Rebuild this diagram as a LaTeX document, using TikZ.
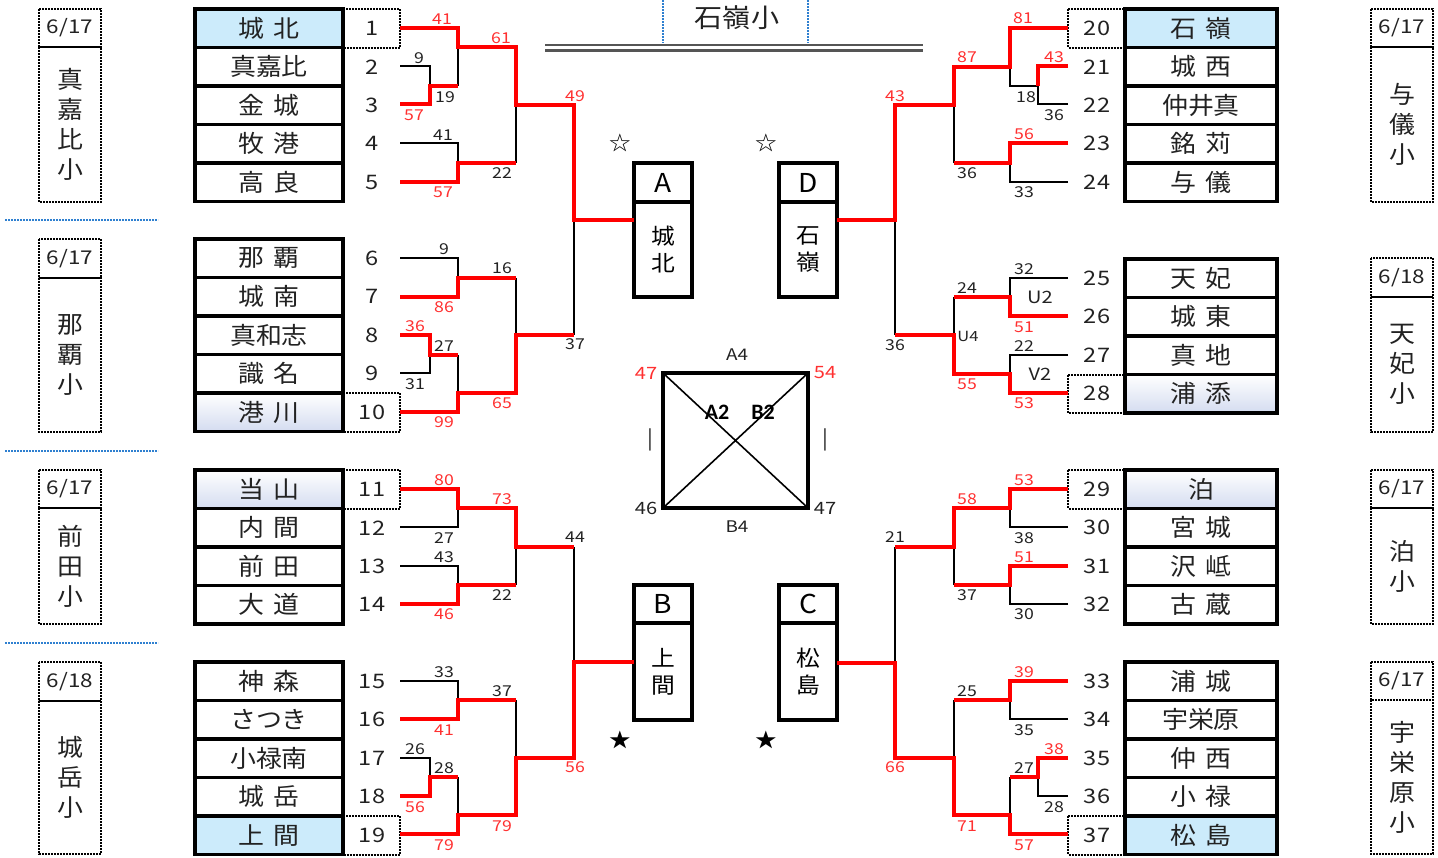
\documentclass[tikz,border=0pt]{standalone}
\usepackage{fontspec}
\setmainfont{Noto Sans CJK JP}[FakeStretch=1.08,WordSpace=1.5]
\newfontfamily\numfont{Noto Sans CJK JP}[FakeStretch=1.18]
\newfontfamily\latbold{Carlito}
\usepackage{tikz}
\usetikzlibrary{positioning,calc}
\definecolor{Win}{HTML}{FF0000}
\definecolor{WinTxt}{HTML}{FF3030}
\definecolor{Ink}{HTML}{222222}
\definecolor{Seed}{HTML}{CCEBFB}
\definecolor{SeedB}{HTML}{D4DCF0}
\definecolor{Sep}{HTML}{2F80D0}
\definecolor{Rail}{HTML}{555555}

\begin{document}
\begin{tikzpicture}[x=1pt,y=-1pt,
    nm/.style={font=\fontsize{24}{24}\selectfont,inner sep=0pt,text=Ink},
    no/.style={font=\numfont\fontsize{20}{20}\selectfont,inner sep=0pt,text=Ink},
    sc/.style={font=\numfont\fontsize{15}{15}\selectfont,inner sep=0pt,text=Ink},
    scw/.style={sc,text=WinTxt},
    cell/.style={draw=black,line width=3.4pt},
    dot/.style={draw=black,line width=2pt,densely dotted},
    sepl/.style={draw=Sep,line width=2pt,densely dotted},
    win/.style={draw=Win,line width=4.5pt},
    lose/.style={draw=black,line width=2.6pt},
    side/.style={font=\fontsize{24}{30}\selectfont,align=center,inner sep=0pt,text=Ink},
    date/.style={font=\numfont\fontsize{19}{19}\selectfont,inner sep=0pt,text=Ink}]
  \useasboundingbox (0,0) rectangle (1438,857);

  % seeded teams
  \fill[Seed] (195,9) rectangle (343,47.5);
  \fill[Seed] (195,816) rectangle (343,854.5);
  \fill[Seed] (1125,9) rectangle (1277,47.5);
  \fill[Seed] (1125,816) rectangle (1277,854.5);
  \shade[top color=white,bottom color=SeedB] (195,393) rectangle (343,431.5);
  \shade[top color=white,bottom color=SeedB] (195,470) rectangle (343,508.5);
  \shade[top color=white,bottom color=SeedB] (1125,374.5) rectangle (1277,413);
  \shade[top color=white,bottom color=SeedB] (1125,470) rectangle (1277,508.5);
  \draw[dot] (343,9) rectangle (400,47.5);
  \draw[dot] (343,393) rectangle (400,431.5);
  \draw[dot] (343,470) rectangle (400,508.5);
  \draw[dot] (343,816) rectangle (400,854.5);
  \draw[dot] (1068,9) rectangle (1125,47.5);
  \draw[dot] (1068,374.5) rectangle (1125,413);
  \draw[dot] (1068,470) rectangle (1125,508.5);
  \draw[dot] (1068,816) rectangle (1125,854.5);

  % team lists
  \foreach \tp/\lst in {9/{1/城 北,2/真嘉比,3/金 城,4/牧 港,5/高 良},
      239/{6/那 覇,7/城 南,8/真和志,9/識 名,10/港 川},
      470/{11/当 山,12/内 間,13/前 田,14/大 道},
      662/{15/神 森,16/さつき,17/小禄南,18/城 岳,19/上 間}}
    \foreach \k/\nm [count=\i] in \lst {
      \draw[cell] (195,{\tp+(\i-1)*38.5}) rectangle (343,{\tp+\i*38.5});
      \node[nm] (t\k) at (269,{\tp+(\i-0.5)*38.5}) {\nm};
      \node[no] (n\k) at (372,{\tp+(\i-0.5)*38.5}) {\k};
    }
  \foreach \tp/\lst in {9/{20/石 嶺,21/城 西,22/仲井真,23/銘 苅,24/与 儀},
      259/{25/天 妃,26/城 東,27/真 地,28/浦 添},
      470/{29/泊,30/宮 城,31/沢 岻,32/古 蔵},
      662/{33/浦 城,34/宇栄原,35/仲 西,36/小 禄,37/松 島}}
    \foreach \k/\nm [count=\i] in \lst {
      \draw[cell] (1125,{\tp+(\i-1)*38.5}) rectangle (1277,{\tp+\i*38.5});
      \node[nm] (t\k) at (1201,{\tp+(\i-0.5)*38.5}) {\nm};
      \node[no] (n\k) at (1097,{\tp+(\i-0.5)*38.5}) {\k};
    }

  % school labels
  \foreach \xa/\ya/\ym/\yb/\d/\v [count=\g] in {
      39/9/47/202/{6/17}/{真\\嘉\\比\\小}, 39/239/278/432/{6/17}/{那\\覇\\小},
      39/470/508/624/{6/17}/{前\\田\\小}, 39/662/701/854/{6/18}/{城\\岳\\小},
      1371/9/47/202/{6/17}/{与\\儀\\小}, 1371/258/297/432/{6/18}/{天\\妃\\小},
      1371/470/508/624/{6/17}/{泊\\小}, 1371/662/700/854/{6/17}/{宇\\栄\\原\\小}} {
    \draw[dot] (\xa,\ya) rectangle (\xa+62,\ym);
    \draw[dot] (\xa,\ym) rectangle (\xa+62,\yb);
    \node[date] (d\g) at ({\xa+31},{(\ya+\ym)/2}) {\d};
    \node[side] (s\g) at ({\xa+31},{(\ym+\yb)/2}) {\v};
  }
  \draw[sepl] (5,220) -- (158,220);
  \draw[sepl] (5,451) -- (158,451);
  \draw[sepl] (5,643) -- (158,643);

  % title
  \node[font=\fontsize{26}{26}\selectfont,text=Ink] (ttl) at (737,18) {石嶺小};
  \draw[sepl,line width=1.5pt] (663,0) -- (663,43);
  \draw[sepl,line width=1.5pt] (808,0) -- (808,43);
  \draw[Rail,line width=2.4pt] (545,45) -- (923,45);
  \draw[Rail,line width=2.4pt] (545,50.5) -- (923,50.5);

  % block winners
  \foreach \xa/\ya/\yb/\yc/\L/\s [count=\g] in {634/163/202/297/A/{城\\北},
      779/163/202/297/D/{石\\嶺}, 634/585/623/720/B/{上\\間}, 779/585/623/720/C/{松\\島}} {
    \draw[cell] (\xa,\ya) rectangle (\xa+58,\yb);
    \draw[cell] (\xa,\yb) rectangle (\xa+58,\yc);
    \node[font=\fontsize{26}{26}\selectfont,inner sep=0pt] (h\L) at ({\xa+29},{(\ya+\yb)/2}) {\L};
    \node[font=\fontsize{22}{27}\selectfont,align=center,inner sep=0pt] (b\L) at ({\xa+29},{(\yb+\yc)/2}) {\s};
  }
  \node[font=\fontsize{20}{20}\selectfont] (st1) at (620,143) {☆};
  \node[font=\fontsize{20}{20}\selectfont] (st2) at (766,143) {☆};
  \node[font=\fontsize{20}{20}\selectfont] (st3) at (620,740) {★};
  \node[font=\fontsize{20}{20}\selectfont] (st4) at (766,740) {★};

  % league square
  \draw[line width=4pt] (663,373) rectangle (808,508);
  \draw[line width=1.6pt] (663,373) -- (808,508) (808,373) -- (663,508);
  \node[sc,font=\numfont\fontsize{16}{16}\selectfont] (a4) at (737,355) {A4};
  \node[sc,font=\numfont\fontsize{16}{16}\selectfont] (b4) at (737,527) {B4};
  \node[scw,font=\numfont\fontsize{17}{17}\selectfont] (q1) at (646,373) {47};
  \node[scw,font=\numfont\fontsize{17}{17}\selectfont] (q2) at (825,373) {54};
  \node[sc,font=\numfont\fontsize{17}{17}\selectfont] (q3) at (646,508) {46};
  \node[sc,font=\numfont\fontsize{17}{17}\selectfont] (q4) at (825,508) {47};
  \node[font=\latbold\bfseries\fontsize{22}{22}\selectfont] (a2) at (717,412) {A2};
  \node[font=\latbold\bfseries\fontsize{22}{22}\selectfont] (b2) at (763,412) {B2};
  \node[sc,font=\fontsize{20}{20}\selectfont] (v1) at (650,440) {|};
  \node[sc,font=\fontsize{20}{20}\selectfont] (v2) at (825,440) {|};

  % losing paths
  \draw[lose] (400,66) -| (430,86);
  \draw[lose] (458,86) -- (458,47);
  \draw[lose] (400,143) -| (458,163);
  \draw[lose] (516,163) -- (516,105);
  \draw[lose] (400,258) -| (458,278);
  \draw[lose] (516,278) -- (516,335);
  \draw[lose] (400,373) -| (430,355);
  \draw[lose] (458,355) -- (458,393);
  \draw[lose] (574,335) -- (574,220);
  \draw[lose] (400,527) -| (458,508);
  \draw[lose] (400,566) -| (458,585);
  \draw[lose] (516,585) -- (516,547);
  \draw[lose] (574,547) -- (574,662);
  \draw[lose] (400,681) -| (458,700);
  \draw[lose] (516,700) -- (516,758);
  \draw[lose] (400,758) -| (430,777);
  \draw[lose] (458,777) -- (458,815);
  \draw[lose] (1038,86) -| (1010,67);
  \draw[lose] (1068,104) -| (1038,86);
  \draw[lose] (954,163) -- (954,105);
  \draw[lose] (1068,182) -| (1010,163);
  \draw[lose] (1068,278) -| (1010,297);
  \draw[lose] (954,297) -- (954,335);
  \draw[lose] (1068,355) -| (1010,374);
  \draw[lose] (895,335) -- (895,220);
  \draw[lose] (1068,527) -| (1010,508);
  \draw[lose] (954,585) -- (954,547);
  \draw[lose] (1068,604) -| (1010,585);
  \draw[lose] (895,547) -- (895,663);
  \draw[lose] (954,700) -- (954,758);
  \draw[lose] (1068,719) -| (1010,700);
  \draw[lose] (1010,777) -- (1010,815);
  \draw[lose] (1068,796) -| (1038,777);

  % winning paths
  \draw[win] (400,28) -| (458,47) -| (516,105) -| (574,220) -- (634,220);
  \draw[win] (400,104) -| (430,86) -- (458,86);
  \draw[win] (400,182) -| (458,163) -- (516,163);
  \draw[win] (400,297) -| (458,278) -- (516,278);
  \draw[win] (400,335) -| (430,355) -- (458,355);
  \draw[win] (400,412) -| (458,393) -| (516,335) -- (574,335);
  \draw[win] (400,489) -| (458,508) -| (516,547) -- (574,547);
  \draw[win] (400,604) -| (458,585) -- (516,585);
  \draw[win] (400,719) -| (458,700) -- (516,700);
  \draw[win] (400,796) -| (430,777) -- (458,777);
  \draw[win] (400,834) -| (458,815) -| (516,758) -| (574,662) -- (634,662);
  \draw[win] (1068,28) -| (1010,67) -| (954,105) -| (895,220) -- (837,220);
  \draw[win] (1068,66) -| (1038,86);
  \draw[win] (1068,143) -| (1010,163) -- (954,163);
  \draw[win] (1068,316) -| (1010,297) -- (954,297);
  \draw[win] (1068,393) -| (1010,374) -| (954,335) -- (895,335);
  \draw[win] (1068,489) -| (1010,508) -| (954,547) -- (895,547);
  \draw[win] (1068,566) -| (1010,585) -- (954,585);
  \draw[win] (1068,681) -| (1010,700) -- (954,700);
  \draw[win] (1068,758) -| (1038,777) -- (1010,777);
  \draw[win] (1068,834) -| (1010,815) -| (954,758) -| (895,663) -- (837,663);

  % scores
  \foreach \x/\y/\t [count=\k] in {442/19/41, 501/38/61, 575/96/49, 414/115/57, 443/192/57,
      444/307/86, 415/326/36, 444/422/99, 502/403/65, 444/480/80, 502/499/73, 444/614/46,
      444/730/41, 415/807/56, 444/845/79, 502/826/79, 575/767/56,
      1023/18/81, 967/57/87, 895/96/43, 1054/57/43, 1024/134/56, 1024/327/51, 967/384/55,
      1024/403/53, 1024/480/53, 967/499/58, 1024/557/51, 1024/672/39, 1054/749/38,
      967/826/71, 1024/845/57, 895/767/66}
    \node[scw] (w\k) at (\x,\y) {\t};
  \foreach \x/\y/\t [count=\k] in {419/58/9, 445/97/19, 443/135/41, 502/173/22, 444/249/9,
      502/268/16, 444/346/27, 415/384/31, 575/344/37, 444/538/27, 444/557/43, 502/595/22,
      575/537/44, 444/672/33, 502/691/37, 415/749/26, 444/768/28,
      1026/97/18, 1054/115/36, 967/173/36, 1024/192/33, 1024/269/32, 967/288/24, 895/345/36,
      1024/346/22, 1024/538/38, 967/595/37, 1024/614/30, 895/537/21, 967/691/25,
      1024/730/35, 1024/768/27, 1054/807/28}
    \node[sc] (l\k) at (\x,\y) {\t};
  \node[sc,font=\numfont\fontsize{17}{17}\selectfont] (u2) at (1040,297) {U2};
  \node[sc,font=\numfont\fontsize{14}{14}\selectfont] (u4) at (968,336) {U4};
  \node[sc,font=\numfont\fontsize{17}{17}\selectfont] (vv2) at (1040,374) {V2};
\end{tikzpicture}
\end{document}
